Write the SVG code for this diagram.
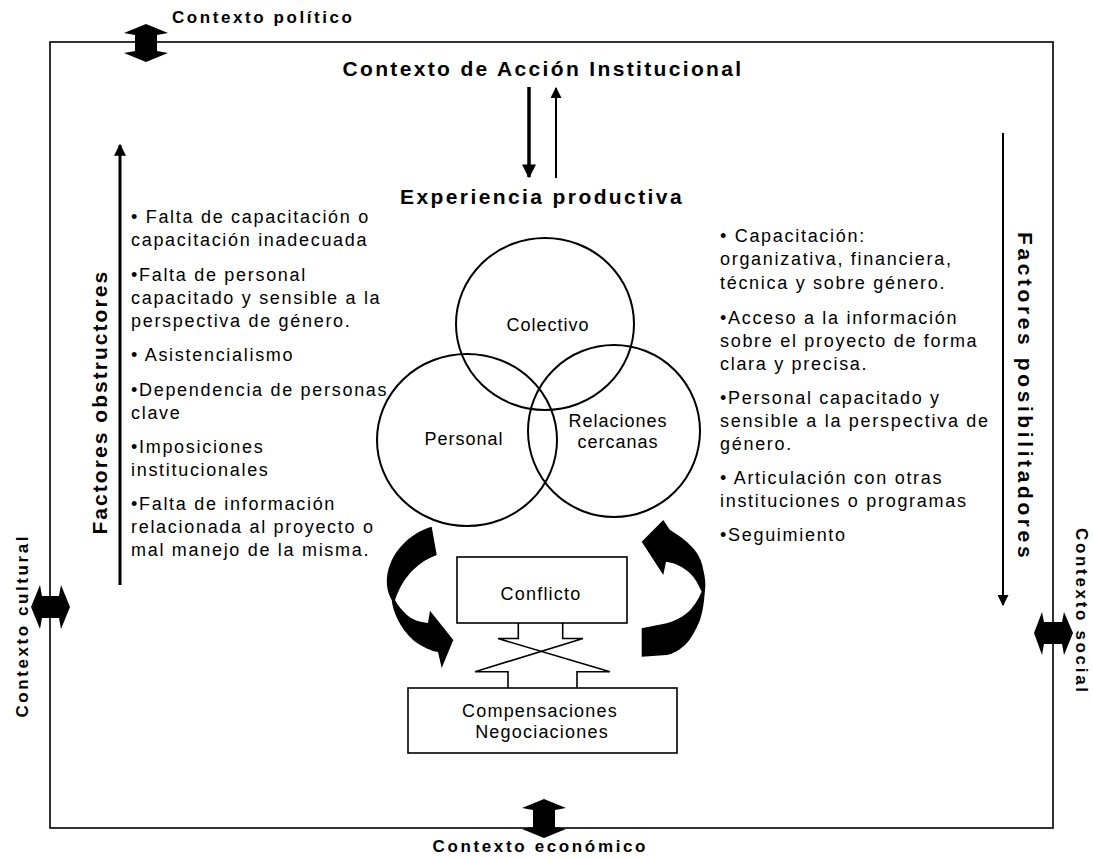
<svg xmlns="http://www.w3.org/2000/svg" width="1093" height="858" viewBox="0 0 1093 858">
<style>
.t{font-family:"Liberation Sans",Arial,sans-serif;font-size:18px;letter-spacing:1.7px;fill:#000}
.b{font-family:"Liberation Sans",Arial,sans-serif;font-weight:bold;fill:#000}
.h{font-size:21px;letter-spacing:2.4px}
.c{font-size:17px}
.ln{stroke:#000;fill:none}
.sh{fill:#000;stroke:none}
</style>
<defs>
<marker id="ah" viewBox="0 0 10 10" refX="9" refY="5" markerWidth="4" markerHeight="4.5" orient="auto" markerUnits="strokeWidth">
<path d="M0,0 L10,5 L0,10 z" fill="#000"/>
</marker>
<marker id="ah2" viewBox="0 0 10 10" refX="9" refY="5" markerWidth="5.5" markerHeight="5.5" orient="auto" markerUnits="strokeWidth">
<path d="M0,0 L10,5 L0,10 z" fill="#000"/>
</marker>
</defs>
<rect width="1093" height="858" fill="#fff"/>

<g id="frame">
<rect x="50" y="42" width="1003" height="786" class="ln" stroke-width="1.6"/>
</g>

<g id="context-labels">
<text class="b c" x="172" y="23" textLength="180" lengthAdjust="spacing">Contexto político</text>
<text class="b c" x="539" y="852" text-anchor="middle" textLength="213" lengthAdjust="spacing">Contexto económico</text>
<text class="b c" transform="translate(28,627) rotate(-90)" text-anchor="middle" textLength="181" lengthAdjust="spacing">Contexto cultural</text>
<text class="b c" transform="translate(1076,610) rotate(90)" text-anchor="middle" textLength="164" lengthAdjust="spacing">Contexto social</text>
</g>

<g id="context-arrows">
<polygon class="sh" points="146,24 124,33 135,35 135,51 124,53 146,62 168,53 157,51 157,35 168,33"/>
<polygon class="sh" points="544,799 522,808 533,810 533,827 522,829 544,838 566,829 555,827 555,810 566,808"/>
<polygon class="sh" points="31,607 40,585 42,596 59,596 61,585 70,607 61,629 59,618 42,618 40,629"/>
<polygon class="sh" points="1034,633 1042,612 1044,622 1062,622 1064,612 1073,633 1064,655 1062,644 1044,644 1042,655"/>
</g>

<g id="titles">
<text class="b h" x="543" y="76" text-anchor="middle" textLength="401" lengthAdjust="spacing">Contexto de Acción Institucional</text>
<text class="b h" x="542" y="204" text-anchor="middle" textLength="284" lengthAdjust="spacing">Experiencia productiva</text>
<text class="b h" transform="translate(107,402) rotate(-90)" text-anchor="middle" textLength="265" lengthAdjust="spacing">Factores obstructores</text>
<text class="b h" transform="translate(1018,396) rotate(90)" text-anchor="middle" textLength="328" lengthAdjust="spacing">Factores posibilitadores</text>
</g>

<g id="connectors">
<line class="ln" x1="529" y1="87" x2="529" y2="177" stroke-width="3.5" marker-end="url(#ah)"/>
<line class="ln" x1="556" y1="178" x2="556" y2="88" stroke-width="2" marker-end="url(#ah2)"/>
<line class="ln" x1="120" y1="585" x2="120" y2="145" stroke-width="3" marker-end="url(#ah)"/>
<line class="ln" x1="1003" y1="133" x2="1003" y2="605" stroke-width="2" marker-end="url(#ah2)"/>
<path class="sh" d="M431.7,526.7 C410,533 390,552 387,577 C386,588 389,595 391.7,600 C393,612 400,628 413,640 C422,647 431,651 438,652 L441.7,668 L453.3,640 L430,610.7 L428,623 C418,622 410,619 404,612 C400,608 397,604 395,600 C399,588 405,578 413,570 C420,563 428,558 436.7,555 Z"/>
<path class="sh" d="M641.7,541.7 L663.3,520 L670,530 C678,535 686,540 691.7,546.7 C698,553 702,561 703.3,570 C705,577 706,584 705,590 C704,602 703,611 700,620 C696,630 692,637 686.7,643.3 C680,650 673,654 666.7,655 L641.7,656.7 L641.7,628.3 L666.7,623.3 C674,621 681,618 686.7,613.3 C693,608 698,600 701.7,591.7 C698,584 695,578 690,573.3 C685,569 679,565 673.3,563.3 L666,561.7 L663.3,575 Z"/>
<polyline class="ln" stroke-width="1.6" points="518.3,623 518.3,638.5 498,638.5 610,671.7 577,671.7 577,688"/>
<polyline class="ln" stroke-width="1.6" points="562.7,623 562.7,638.5 583,638.5 475,671.7 508,671.7 508,688"/>
</g>

<g id="obstructores-list">
<text class="t" x="131" y="223">• Falta de capacitación o</text>
<text class="t" x="131" y="246">capacitación inadecuada</text>
<text class="t" x="131" y="281">•Falta de personal</text>
<text class="t" x="131" y="304">capacitado y sensible a la</text>
<text class="t" x="131" y="327">perspectiva de género.</text>
<text class="t" x="131" y="361">• Asistencialismo</text>
<text class="t" x="131" y="396">•Dependencia de personas</text>
<text class="t" x="131" y="419">clave</text>
<text class="t" x="131" y="453">•Imposiciones</text>
<text class="t" x="131" y="476">institucionales</text>
<text class="t" x="131" y="510">•Falta de información</text>
<text class="t" x="131" y="533">relacionada al proyecto o</text>
<text class="t" x="131" y="556">mal manejo de la misma.</text>
</g>

<g id="posibilitadores-list">
<text class="t" x="720" y="242">• Capacitación:</text>
<text class="t" x="720" y="265">organizativa, financiera,</text>
<text class="t" x="720" y="289">técnica y sobre género.</text>
<text class="t" x="720" y="324">•Acceso a la información</text>
<text class="t" x="720" y="347">sobre el proyecto de forma</text>
<text class="t" x="720" y="370">clara y precisa.</text>
<text class="t" x="720" y="404">•Personal capacitado y</text>
<text class="t" x="720" y="427">sensible a la perspectiva de</text>
<text class="t" x="720" y="450">género.</text>
<text class="t" x="720" y="484">• Articulación con otras</text>
<text class="t" x="720" y="507">instituciones o programas</text>
<text class="t" x="720" y="541">•Seguimiento</text>
</g>

<g id="colectivo">
<ellipse class="ln" cx="545" cy="324" rx="89" ry="86" stroke-width="2"/>
<text class="t" x="548" y="331" text-anchor="middle" style="letter-spacing:1px">Colectivo</text>
</g>
<g id="personal">
<ellipse class="ln" cx="467" cy="440" rx="90" ry="86" stroke-width="2"/>
<text class="t" x="464" y="445" text-anchor="middle" style="letter-spacing:1px">Personal</text>
</g>
<g id="relaciones">
<ellipse class="ln" cx="614" cy="431" rx="86" ry="86" stroke-width="2"/>
<text class="t" x="618" y="427" text-anchor="middle" style="letter-spacing:1px">Relaciones</text>
<text class="t" x="618" y="448" text-anchor="middle" style="letter-spacing:1px">cercanas</text>
</g>

<g id="conflicto">
<rect class="ln" x="457" y="557" width="170" height="66" stroke-width="1.6"/>
<text class="t" x="541" y="600" text-anchor="middle" style="letter-spacing:1.2px">Conflicto</text>
</g>
<g id="compensaciones">
<rect class="ln" x="408" y="688" width="269" height="65" stroke-width="1.6"/>
<text class="t" x="540" y="717" text-anchor="middle" style="letter-spacing:1.2px">Compensaciones</text>
<text class="t" x="542" y="738" text-anchor="middle" style="letter-spacing:1.2px">Negociaciones</text>
</g>
</svg>
